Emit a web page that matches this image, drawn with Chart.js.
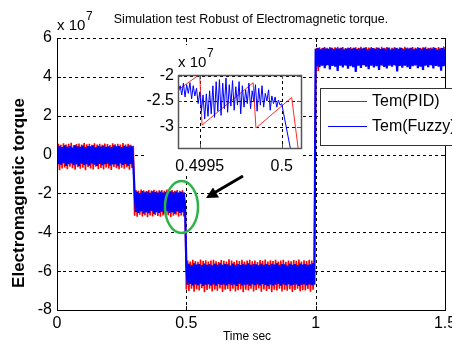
<!DOCTYPE html>
<html>
<head>
<meta charset="utf-8">
<script src="https://cdn.jsdelivr.net/npm/chart.js@4/dist/chart.umd.min.js"></script>
<style>
  html, body { margin: 0; padding: 0; background: #fff; }
  #wrap { position: relative; width: 452px; height: 345px; overflow: hidden; }
  #main { position: absolute; left: 0; top: 0; }
  #zoom { position: absolute; left: 147px; top: 45px; }
</style>
</head>
<body>
<div id="wrap">
  <canvas id="main" width="452" height="345"></canvas>
  <canvas id="zoom" width="156" height="130"></canvas>
</div>
<script>
// torque in units of 1e7 N.m, one sample every 5 ms
const sampleStep = 0.005;

// 0 - 0.3 s
const pid1 = [-0.88,0.55,-0.8,0.5,-0.72,0.58,-0.66,0.52,-0.75,0.56,-0.62,0.6,-0.7,0.49,-0.78,0.54,-0.65,0.57,-0.73,0.51,
  -0.68,0.59,-0.8,0.53,-0.64,0.55,-0.71,0.5,-0.77,0.58,-0.63,0.52,-0.74,0.56,-0.69,0.5,-0.76,0.57,-0.66,0.54,
  -0.72,0.49,-0.79,0.58,-0.64,0.53,-0.7,0.55,-0.75,0.51,-0.67,0.59,-0.73,0.52,-0.65,0.56,-0.78,0.5,-0.69,0.45];
const fuzzy1 = [0.42,-0.48,0.45,-0.52,0.38,-0.44,0.47,-0.58,0.41,-0.5,0.44,-0.46,0.36,-0.55,0.48,-0.49,0.43,-0.6,0.4,-0.47,
  0.46,-0.53,0.39,-0.5,0.44,-0.57,0.42,-0.45,0.47,-0.52,0.37,-0.59,0.45,-0.48,0.41,-0.54,0.46,-0.5,0.4,-0.47,
  0.43,-0.56,0.38,-0.51,0.47,-0.49,0.42,-0.6,0.44,-0.46,0.39,-0.53,0.45,-0.5,0.41,-0.57,0.46,-0.48,0.43,-0.52];

// 0.3 - 0.5 s
const pid2 = [-3.15,-1.82,-3.2,-1.86,-3.1,-1.8,-3.18,-1.84,-3.12,-1.88,-3.22,-1.83,-3.14,-1.85,-3.19,-1.81,-3.11,-1.87,-3.16,-1.84,
  -3.2,-1.82,-3.13,-1.86,-3.17,-1.8,-3.12,-1.85,-3.21,-1.83,-3.15,-1.87,-3.1,-1.82,-3.18,-1.86,-3.14,-1.84,-3.19,-2.4];
const fuzzy2 = [-1.95,-2.95,-1.9,-3.0,-1.98,-2.92,-1.88,-3.04,-1.94,-2.96,-1.91,-3.02,-1.97,-2.9,-1.89,-3.05,-1.93,-2.97,-1.96,-3.0,
  -1.9,-2.94,-1.95,-3.03,-1.92,-2.91,-1.98,-3.01,-1.89,-2.96,-1.94,-3.04,-1.91,-2.93,-1.96,-3.0,-1.92,-2.97,-1.95,-2.6];

// 0.5 - 1 s
const pid3 = [-6.95,-5.45,-7.02,-5.5,-6.9,-5.42,-7.06,-5.48,-6.93,-5.52,-7.0,-5.4,-6.88,-5.47,-7.08,-5.44,-6.97,-5.51,-6.91,-5.46,
  -7.04,-5.41,-6.94,-5.49,-7.01,-5.53,-6.89,-5.43,-7.07,-5.47,-6.96,-5.5,-6.92,-5.39,-7.03,-5.45,-6.9,-5.52,-7.05,-5.44,
  -6.98,-5.48,-6.93,-5.42,-7.09,-5.5,-6.95,-5.46,-7.0,-5.41,-6.91,-5.49,-7.04,-5.45,-6.97,-5.53,-6.89,-5.43,-7.06,-5.47,
  -6.94,-5.4,-7.02,-5.51,-6.92,-5.44,-7.08,-5.48,-6.96,-5.42,-6.99,-5.5,-6.9,-5.46,-7.05,-5.41,-6.95,-5.52,-7.01,-5.45,
  -6.93,-5.49,-7.07,-5.43,-6.97,-5.47,-6.91,-5.4,-7.03,-5.51,-6.98,-5.44,-7.0,-5.48,-6.92,-5.42,-7.06,-5.46,-6.95,-5.45];
const fuzzy3 = [-5.65,-6.7,-5.62,-6.66,-5.7,-6.74,-5.6,-6.68,-5.66,-6.72,-5.63,-6.65,-5.69,-6.76,-5.61,-6.7,-5.67,-6.67,-5.64,-6.73,
  -5.7,-6.69,-5.62,-6.75,-5.66,-6.66,-5.6,-6.71,-5.68,-6.68,-5.63,-6.74,-5.65,-6.67,-5.71,-6.72,-5.61,-6.69,-5.67,-6.76,
  -5.64,-6.66,-5.69,-6.73,-5.62,-6.7,-5.66,-6.68,-5.6,-6.75,-5.68,-6.67,-5.63,-6.72,-5.65,-6.69,-5.7,-6.74,-5.61,-6.66,
  -5.67,-6.71,-5.64,-6.77,-5.69,-6.68,-5.62,-6.73,-5.66,-6.7,-5.6,-6.66,-5.68,-6.75,-5.63,-6.69,-5.65,-6.72,-5.71,-6.67,
  -5.62,-6.74,-5.67,-6.7,-5.64,-6.68,-5.69,-6.76,-5.61,-6.71,-5.66,-6.67,-5.63,-6.73,-5.68,-6.69,-5.65,-6.72,-5.6,-6.7];

// 1 - 1.5 s
const pid4 = [4.0,5.5,4.3,5.52,4.6,5.48,4.62,5.53,4.58,5.5,4.63,5.54,4.6,5.49,4.64,5.52,4.59,5.55,4.62,5.5,
  4.6,5.53,4.63,5.48,4.58,5.51,4.61,5.54,4.64,5.5,4.6,5.52,4.62,5.49,4.59,5.55,4.63,5.5,4.6,5.53,
  4.62,5.51,4.58,5.54,4.61,5.48,4.64,5.52,4.6,5.5,4.63,5.55,4.59,5.49,4.62,5.53,4.6,5.51,4.64,5.49,
  4.61,5.54,4.58,5.5,4.63,5.52,4.6,5.48,4.62,5.55,4.59,5.51,4.64,5.49,4.61,5.53,4.6,5.5,4.63,5.54,
  4.58,5.49,4.62,5.52,4.6,5.55,4.64,5.5,4.61,5.51,4.59,5.53,4.63,5.48,4.6,5.54,4.62,5.5,4.58,5.52,5.48];
const fuzzy4 = [5.45,4.55,5.48,4.5,5.42,4.58,5.5,4.45,5.46,4.6,5.44,4.38,5.49,4.56,5.43,4.52,5.47,4.3,5.45,4.57,
  5.5,4.48,5.41,4.59,5.46,4.42,5.48,4.55,5.44,4.5,5.49,4.25,5.43,4.57,5.47,4.46,5.45,4.6,5.5,4.53,
  5.42,4.4,5.46,4.58,5.48,4.49,5.44,4.55,5.49,4.35,5.43,4.59,5.47,4.51,5.45,4.44,5.5,4.57,5.41,4.52,
  5.46,4.6,5.48,4.28,5.44,4.56,5.49,4.47,5.43,4.58,5.47,4.5,5.45,4.41,5.5,4.55,5.42,4.59,5.46,4.45,
  5.48,4.53,5.44,4.36,5.49,4.57,5.43,4.5,5.47,4.6,5.45,4.43,5.5,4.56,5.41,4.52,5.46,4.32,5.48,4.55,5.45];

const pidTorque = [...pid1, ...pid2, ...pid3, ...pid4];
const fuzzyTorque = [...fuzzy1, ...fuzzy2, ...fuzzy3, ...fuzzy4];

const xTicks = [0, 0.5, 1, 1.5];
const xTickLabels = ['0', '0.5', '1', '1.5'];
const yTicks = [-8, -6, -4, -2, 0, 2, 4, 6];
const yTickLabels = ['-8', '-6', '-4', '-2', '0', '2', '4', '6'];

// zoomed window around t = 0.5 s
const zoomStart = 0.49937;
const zoomStep = 0.00001;
const zoomFuzzy = [-2.3,-2.2,-2.38,-2.15,-2.42,-2.18,-2.35,-2.14,-2.46,-2.2,-2.4,-2.25,-2.55,-2.32,-2.7,-2.38,-2.85,-2.36,-2.8,-2.3,
  -2.75,-2.2,-2.82,-2.12,-2.7,-2.08,-2.78,-2.15,-2.65,-2.05,-2.72,-2.18,-2.6,-2.1,-2.68,-2.22,-2.58,-2.12,-2.75,-2.2,
  -2.62,-2.28,-2.55,-2.15,-2.65,-2.3,-2.52,-2.18,-2.7,-2.25,-2.58,-2.2,-2.62,-2.35,-2.5,-2.28,-2.68,-2.4,-2.55,-2.42,
  -2.62,-2.48,-2.58,-2.55];
const zoomFuzzyDropTime = [0.500055];
const zoomFuzzyDrop = [-3.46];
const zoomPidTime = [0.49936, 0.499494, 0.4995, 0.499514, 0.499826, 0.499843, 0.500061, 0.500102];
const zoomPid = [-2.3, -1.99, -2.0, -2.97, -2.14, -3.03, -2.43, -3.46];
const zoomXTicks = [0.4995, 0.5];
const zoomXTickLabels = ['0.4995', '0.5'];
const zoomYTicks = [-3, -2.5, -2];
const zoomYTickLabels = ['-3', '-2.5', '-2'];

const FONT = 'Arial, "Liberation Sans", sans-serif';

function series(values) {
    return values.map((v, i) => ({ x: i * sampleStep, y: v }));
}

function hline(ctx, x1, x2, y) {
    y = Math.round(y) + 0.5;
    ctx.beginPath(); ctx.moveTo(x1, y); ctx.lineTo(x2, y); ctx.stroke();
}
function vline(ctx, x, y1, y2) {
    x = Math.round(x) + 0.5;
    ctx.beginPath(); ctx.moveTo(x, y1); ctx.lineTo(x, y2); ctx.stroke();
}

function gridAndBox(xt, yt, boxColor, boxWidth) {
    return {
        id: 'gridAndBox',
        beforeDatasetsDraw(chart) {
            const { ctx, chartArea: a, scales: { x, y } } = chart;
            ctx.save();
            ctx.strokeStyle = '#000';
            ctx.lineWidth = 1;
            ctx.setLineDash([3, 3]);
            yt.forEach(v => hline(ctx, a.left, a.right, y.getPixelForValue(v)));
            xt.forEach(v => vline(ctx, x.getPixelForValue(v), a.top, a.bottom));
            ctx.restore();
        },
        afterDatasetsDraw(chart) {
            const { ctx, chartArea: a, scales: { x, y } } = chart;
            ctx.save();
            ctx.strokeStyle = boxColor;
            ctx.lineWidth = boxWidth;
            vline(ctx, a.left, a.top, a.bottom + 1);
            vline(ctx, a.right, a.top, a.bottom + 1);
            hline(ctx, a.left, a.right + 1, a.bottom);
            if (boxColor !== '#000') hline(ctx, a.left, a.right + 1, a.top);
            ctx.lineWidth = 1;
            xt.forEach(v => {
                const px = x.getPixelForValue(v);
                vline(ctx, px, a.bottom - 4, a.bottom);
                vline(ctx, px, a.top, a.top + 4);
            });
            yt.forEach(v => {
                const py = y.getPixelForValue(v);
                hline(ctx, a.left, a.left + 4, py);
                hline(ctx, a.right - 4, a.right, py);
            });
            ctx.restore();
        }
    };
}

const annotations = {
    id: 'annotations',
    afterDraw(chart) {
        const ctx = chart.ctx;
        ctx.save();
        ctx.fillStyle = '#000';
        ctx.textBaseline = 'alphabetic';

        ctx.font = '12.5px ' + FONT;
        ctx.textAlign = 'center';
        ctx.fillText('Simulation test Robust of Electromagnetic torque.', 251, 23);

        ctx.textAlign = 'left';
        ctx.font = '15px ' + FONT;
        ctx.fillText('x 10', 57, 30);
        ctx.font = '12px ' + FONT;
        ctx.fillText('7', 86, 20);

        ctx.font = '12px ' + FONT;
        ctx.textAlign = 'center';
        ctx.fillText('Time sec', 247, 340);

        ctx.save();
        ctx.translate(19, 193);
        ctx.rotate(-Math.PI / 2);
        ctx.font = 'bold 17px ' + FONT;
        ctx.textBaseline = 'middle';
        ctx.fillText('Electromagnetic torque', 0, 0);
        ctx.restore();

        // legend
        ctx.fillStyle = '#fff';
        ctx.fillRect(320.5, 88.5, 140, 57);
        ctx.strokeStyle = '#333';
        ctx.lineWidth = 1;
        ctx.strokeRect(320.5, 88.5, 140, 57);
        ctx.strokeStyle = '#ff0000';
        hline(ctx, 328, 367, 101);
        ctx.strokeStyle = '#0000ff';
        hline(ctx, 328, 367, 126);
        ctx.fillStyle = '#000';
        ctx.font = '16px ' + FONT;
        ctx.textAlign = 'left';
        ctx.textBaseline = 'middle';
        ctx.fillText('Tem(PID)', 372, 102);
        ctx.fillText('Tem(Fuzzy)', 372, 127);

        // green ring round the step and arrow
        ctx.strokeStyle = '#2fb24a';
        ctx.lineWidth = 2.5;
        ctx.beginPath();
        ctx.ellipse(181.5, 207, 16.5, 26, 0, 0, Math.PI * 2);
        ctx.stroke();

        ctx.strokeStyle = '#000';
        ctx.fillStyle = '#000';
        ctx.lineWidth = 3;
        ctx.beginPath();
        ctx.moveTo(243, 176);
        ctx.lineTo(214, 193);
        ctx.stroke();
        ctx.beginPath();
        ctx.moveTo(206, 198);
        ctx.lineTo(213, 187.5);
        ctx.lineTo(219, 197.5);
        ctx.closePath();
        ctx.fill();
        ctx.restore();
    }
};

new Chart(document.getElementById('main'), {
    type: 'line',
    data: {
        datasets: [{
            label: 'Tem(Fuzzy)',
            data: series(fuzzyTorque),
            borderColor: '#0000ff',
            borderWidth: 2.2,
            order: 0
        }, {
            label: 'Tem(PID)',
            data: series(pidTorque),
            borderColor: '#ff0000',
            borderWidth: 1.6,
            order: 1
        }]
    },
    options: {
        responsive: false,
        animation: false,
        devicePixelRatio: 1,
        layout: { padding: { top: 38, right: 7, left: 0, bottom: 0 } },
        elements: { line: { tension: 0 }, point: { radius: 0 } },
        plugins: { legend: { display: false }, tooltip: { enabled: false } },
        scales: {
            x: {
                type: 'linear', min: 0, max: 1.5,
                grid: { display: false, drawTicks: false },
                border: { display: false },
                afterBuildTicks: s => { s.ticks = xTicks.map(v => ({ value: v })); },
                afterFit: s => { s.height = 35; s.paddingLeft = 0; s.paddingRight = 0; },
                ticks: {
                    color: '#000', padding: 4, maxRotation: 0, autoSkip: false,
                    font: { family: FONT, size: 16 },
                    callback: (v, i) => xTickLabels[i]
                }
            },
            y: {
                type: 'linear', min: -8, max: 6,
                grid: { display: false, drawTicks: false },
                border: { display: false },
                afterBuildTicks: s => { s.ticks = yTicks.map(v => ({ value: v })); },
                afterFit: s => { s.width = 57; s.paddingTop = 0; s.paddingBottom = 0; },
                ticks: {
                    color: '#000', padding: 5, autoSkip: false,
                    font: { family: FONT, size: 16 },
                    callback: (v, i) => yTickLabels[i]
                }
            }
        }
    },
    plugins: [gridAndBox(xTicks, yTicks, '#000', 1), annotations]
});

const whiteBack = {
    id: 'whiteBack',
    beforeDraw(chart) {
        const ctx = chart.ctx;
        ctx.save();
        ctx.fillStyle = '#fff';
        ctx.fillRect(0, 0, chart.width, chart.height);
        ctx.restore();
    },
    afterDraw(chart) {
        const ctx = chart.ctx;
        ctx.save();
        ctx.fillStyle = '#000';
        ctx.font = '15px ' + FONT;
        ctx.fillText('x 10', 31, 22);
        ctx.font = '12px ' + FONT;
        ctx.fillText('7', 60, 12);
        ctx.restore();
    }
};

new Chart(document.getElementById('zoom'), {
    type: 'line',
    data: {
        datasets: [{
            label: 'Tem(Fuzzy)',
            data: zoomFuzzy.map((v, i) => ({ x: zoomStart + i * zoomStep, y: v }))
                .concat(zoomFuzzyDrop.map((v, i) => ({ x: zoomFuzzyDropTime[i], y: v }))),
            borderColor: '#0000ff',
            borderWidth: 1,
            order: 0
        }, {
            label: 'Tem(PID)',
            data: zoomPid.map((v, i) => ({ x: zoomPidTime[i], y: v })),
            borderColor: '#ff2a2a',
            borderWidth: 1,
            order: 1
        }]
    },
    options: {
        responsive: false,
        animation: false,
        devicePixelRatio: 1,
        layout: { padding: { top: 30, right: 2, left: 0, bottom: 0 } },
        elements: { line: { tension: 0 }, point: { radius: 0 } },
        plugins: { legend: { display: false }, tooltip: { enabled: false } },
        scales: {
            x: {
                type: 'linear', min: 0.499367, max: 0.500118,
                grid: { display: false, drawTicks: false },
                border: { display: false },
                afterBuildTicks: s => { s.ticks = zoomXTicks.map(v => ({ value: v })); },
                afterFit: s => { s.height = 27; s.paddingLeft = 0; s.paddingRight = 0; },
                ticks: {
                    color: '#000', padding: 9, maxRotation: 0, autoSkip: false,
                    font: { family: FONT, size: 16 },
                    callback: (v, i) => zoomXTickLabels[i]
                }
            },
            y: {
                type: 'linear', min: -3.42, max: -1.99,
                grid: { display: false, drawTicks: false },
                border: { display: false },
                afterBuildTicks: s => { s.ticks = zoomYTicks.map(v => ({ value: v })); },
                afterFit: s => { s.width = 31; s.paddingTop = 0; s.paddingBottom = 0; },
                ticks: {
                    color: '#000', padding: 4, autoSkip: false,
                    font: { family: FONT, size: 16 },
                    callback: (v, i) => zoomYTickLabels[i]
                }
            }
        }
    },
    plugins: [whiteBack, gridAndBox(zoomXTicks, zoomYTicks, '#555', 1.5)]
});
</script>
</body>
</html>
